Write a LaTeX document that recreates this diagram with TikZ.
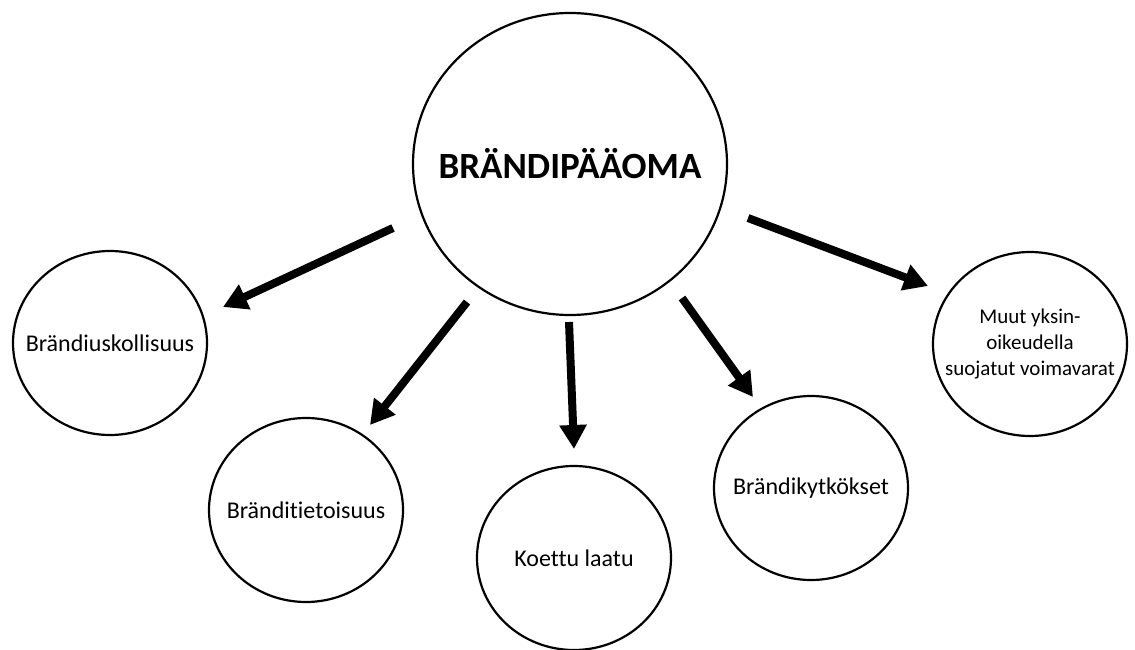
\documentclass[tikz,border=0pt]{standalone}
\usepackage{fontspec}
\setmainfont{Carlito}[Ligatures=CommonOff]
\usetikzlibrary{shapes.geometric,arrows.meta,calc}
\tikzset{
  big/.style={ellipse,draw=black,line width=2.2pt,minimum width=314pt,minimum height=302pt,inner sep=0pt},
  small/.style={ellipse,draw=black,line width=2.2pt,minimum width=194pt,minimum height=184pt,inner sep=0pt},
  bigtext/.style={font=\fontsize{37}{40}\selectfont\bfseries},
  smalltext/.style={font=\fontsize{24}{28}\selectfont},
  multitext/.style={align=center,font=\fontsize{21}{26}\selectfont},
  arr/.style={line width=8pt,-{Triangle[length=24pt,width=26pt]}}
}
\begin{document}
\begin{tikzpicture}[x=1pt,y=-1pt]
\useasboundingbox[fill=white] (0,0) rectangle (1135,650);
\node[big,label={[bigtext]center:BRÄNDIPÄÄOMA}] (c) at (570,164) {};
\node[small,label={[smalltext]center:Brändiuskollisuus}] (b1) at (110,343) {};
\node[small,label={[smalltext]center:Bränditietoisuus}] (b2) at (306,510) {};
\node[small,label={[smalltext]center:Koettu laatu}] (b3) at (574,558) {};
\node[small,label={[smalltext]center:Brändikytkökset}] (b4) at (811,488) {};
\node[small,label={[multitext]center:Muut yksin-\\oikeudella\\suojatut voimavarat}] (b5) at (1030,344) {};
\draw[arr] ($(c)+(-177,64)$) -- ($(b1)+(113,-36)$);
\draw[arr] ($(c)+(-103,138)$) -- ($(b2)+(64,-85)$);
\draw[arr] ($(c)+(-1,158)$) -- ($(b3)+(0,-109)$);
\draw[arr] ($(c)+(112,134)$) -- ($(b4)+(-58,-91)$);
\draw[arr] ($(c)+(178,54)$) -- ($(b5)+(-102,-58)$);
\end{tikzpicture}
\end{document}
